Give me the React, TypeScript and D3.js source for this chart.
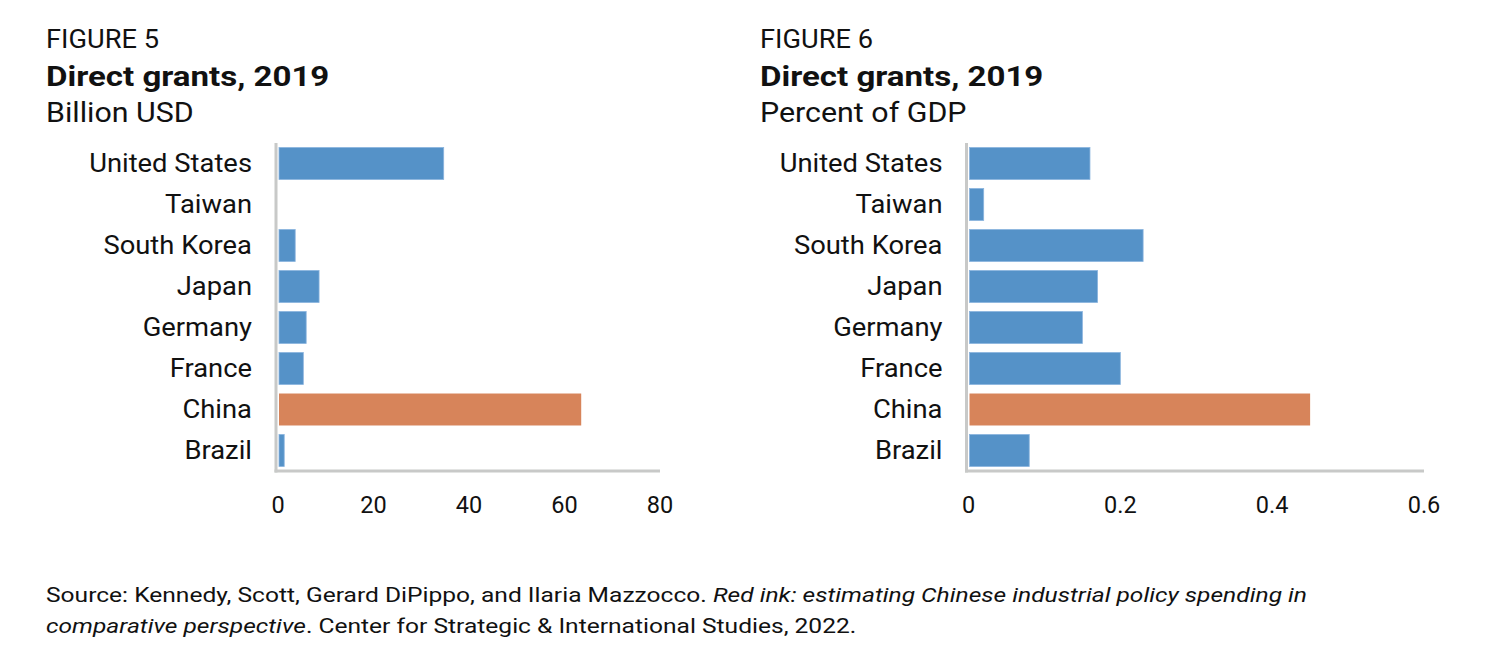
import React, { useEffect, useRef } from 'react';
import * as d3 from 'd3';

const countries = ['United States', 'Taiwan', 'South Korea', 'Japan', 'Germany', 'France', 'China', 'Brazil'];
const billionUsd = [34.7, 0, 3.6, 8.6, 5.9, 5.3, 63.5, 1.3];
const percentGdp = [0.16, 0.02, 0.23, 0.17, 0.15, 0.2, 0.45, 0.08];
const ticksLeft = [0, 20, 40, 60, 80];
const ticksRight = [0, 0.2, 0.4, 0.6];
const highlight = 'China';

const BLUE = '#5592c8';
const ORANGE = '#d7845a';
const AXIS = '#c8c9c8';
const INK = '#111';
const FONT = 'Roboto, "Noto Sans", sans-serif';

interface Panel {
  fig: string;
  unit: string;
  values: number[];
  ticks: number[];
  max: number;
  titleX: number;
  x0: number;
  x1: number;
}

const panels: Panel[] = [
  { fig: 'FIGURE 5', unit: 'Billion USD', values: billionUsd, ticks: ticksLeft, max: 80, titleX: 46, x0: 278, x1: 660 },
  { fig: 'FIGURE 6', unit: 'Percent of GDP', values: percentGdp, ticks: ticksRight, max: 0.6, titleX: 760, x0: 968.5, x1: 1424 },
];

type Sel = d3.Selection<SVGGElement, unknown, null, undefined>;

// text that is a bit wider than Roboto, like the source figure
function wideText(parent: Sel | d3.Selection<SVGSVGElement, unknown, null, undefined>, x: number, y: number, size: number, sx: number) {
  return parent
    .append('text')
    .attr('transform', `translate(${x},${y}) scale(${sx},1)`)
    .attr('font-size', size)
    .attr('fill', INK);
}

const App: React.FC = () => {
  const ref = useRef<SVGSVGElement>(null);

  useEffect(() => {
    const svg = d3.select(ref.current as SVGSVGElement);
    svg.selectAll('*').remove();

    const top = 143;
    const bottom = 471;

    panels.forEach(p => {
      const g = svg.append('g') as Sel;

      wideText(g, p.titleX, 48, 25, 1.09).text(p.fig);
      wideText(g, p.titleX, 86, 28, 1.18).attr('font-weight', 'bold').text('Direct grants, 2019');
      wideText(g, p.titleX, 122, 28, 1.085).text(p.unit);

      const x = d3.scaleLinear().domain([0, p.max]).range([p.x0, p.x1]);
      const y = d3.scaleBand<string>().domain(countries).range([top, bottom]).paddingInner(0.22).paddingOuter(0.11);

      g.selectAll('rect.bar')
        .data(p.values)
        .join('rect')
        .attr('class', 'bar')
        .attr('x', x(0) + 1)
        .attr('y', (_, i) => y(countries[i])!)
        .attr('width', d => Math.max(0, x(d) - x(0) - 1))
        .attr('height', y.bandwidth())
        .attr('fill', (_, i) => (countries[i] === highlight ? ORANGE : BLUE))
        .attr('stroke', (_, i) => (countries[i] === highlight ? 'none' : '#8ab4de'))
        .attr('stroke-width', d => (d > 0 ? 0.8 : 0));

      countries.forEach(c => {
        wideText(g, p.x0 - 26, y(c)! + y.bandwidth() / 2 + 8.5, 25, 1.095)
          .attr('text-anchor', 'end')
          .text(c);
      });

      // axis lines
      g.append('line').attr('x1', x(0) - 2).attr('x2', x(0) - 2).attr('y1', top).attr('y2', bottom + 1.5).attr('stroke', AXIS).attr('stroke-width', 3);
      g.append('line').attr('x1', x(0) - 3.5).attr('x2', p.x1).attr('y1', bottom).attr('y2', bottom).attr('stroke', AXIS).attr('stroke-width', 3);

      g.selectAll('text.tick')
        .data(p.ticks)
        .join('text')
        .attr('class', 'tick')
        .attr('x', d => x(d))
        .attr('y', 513)
        .attr('text-anchor', 'middle')
        .attr('font-size', 23.5)
        .attr('fill', INK)
        .text(d => String(d));
    });

    const src = wideText(svg, 46, 602, 21, 1.17);
    src.append('tspan').text('Source: Kennedy, Scott, Gerard DiPippo, and Ilaria Mazzocco. ');
    src.append('tspan').attr('font-style', 'italic').text('Red ink: estimating Chinese industrial policy spending in');
    const src2 = wideText(svg, 46, 633, 21, 1.17);
    src2.append('tspan').attr('font-style', 'italic').text('comparative perspective');
    src2.append('tspan').text('. Center for Strategic & International Studies, 2022.');
  }, []);

  return (
    <div style={{ position: 'absolute', left: 0, top: 0 }}>
      <svg ref={ref} width={1506} height={656} style={{ display: 'block', fontFamily: FONT, background: '#fff' }} />
    </div>
  );
};

export default App;
